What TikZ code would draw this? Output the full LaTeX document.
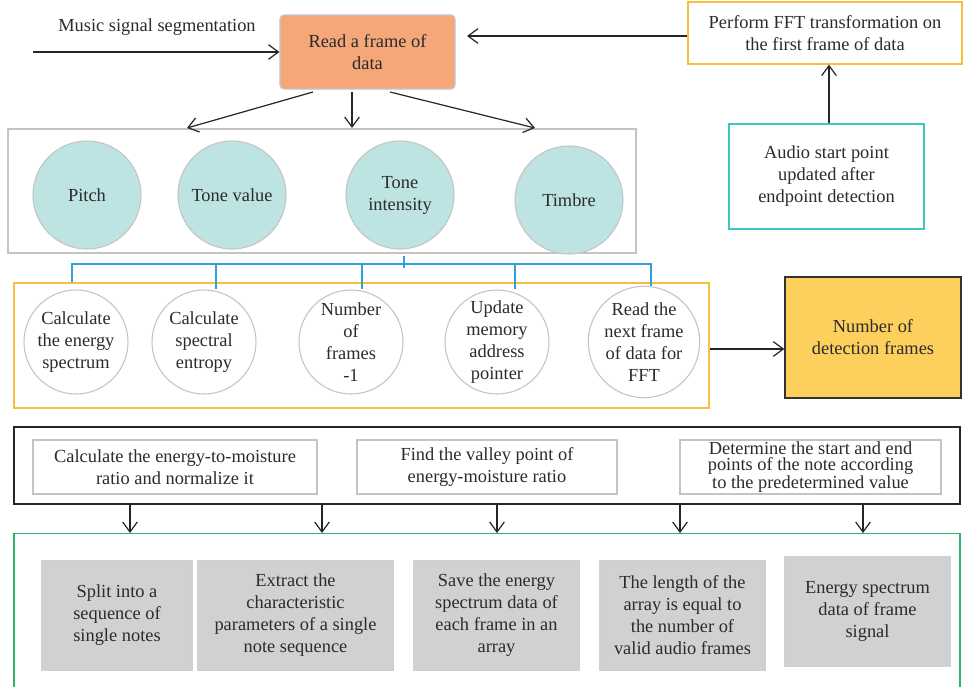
\documentclass[tikz,border=0pt]{standalone}
\usepackage{fontspec}
\setmainfont{Liberation Serif}
\usetikzlibrary{arrows.meta}
\definecolor{txt}{HTML}{2B2B2B}
\definecolor{salmon}{HTML}{F5A77A}
\definecolor{teal}{HTML}{BDE3E2}
\definecolor{orangeb}{HTML}{F9BE3A}
\definecolor{cyanb}{HTML}{3CC8C0}
\definecolor{blueln}{HTML}{2FA0DA}
\definecolor{gold}{HTML}{FDD05E}
\definecolor{greenb}{HTML}{2DB36A}
\definecolor{grayfill}{HTML}{D0D1D0}
\definecolor{lgray}{HTML}{C4C4C4}
\tikzset{
  every node/.style={text=txt, font=\fontsize{13.8}{16.5}\selectfont, align=center, inner sep=0pt},
  arr/.style={draw=black!85, line width=0.9pt, -{Straight Barb[length=7.5pt,width=11pt,line width=0.9pt]}},
  rbox/.style={draw=lgray, line width=0.8pt, rectangle},
  tcirc/.style={circle, draw=lgray, line width=0.8pt, fill=teal, minimum size=81pt},
  wcirc/.style={circle, draw=lgray, line width=0.8pt, fill=white, minimum size=78pt},
  gbox/.style={rectangle, draw=lgray!80, line width=0.8pt, fill=grayfill, minimum height=81.75pt},
  bline/.style={draw=blueln, line width=0.9pt}
}
\begin{document}
\begin{tikzpicture}[x=0.75pt,y=-0.75pt]
\clip (0,0) rectangle (963,686);
\fill[white] (0,0) rectangle (963,686);

% top row
\node (msg) at (157,27) {Music signal segmentation};
\coordinate (msgstart) at (33,52);
\node[rectangle, rounded corners=3pt, draw=lgray, line width=0.8pt, fill=salmon, minimum width=131.25pt, minimum height=55.5pt] (read) at (367.5,52) {Read a frame of\\data};
\node[rectangle, draw=orangeb, line width=0.9pt, minimum width=205.5pt, minimum height=46.5pt] (fft) at (825,33) {Perform FFT transformation on\\the first frame of data};
\node[rectangle, draw=cyanb, line width=0.9pt, minimum width=146.25pt, minimum height=78.75pt] (audio) at (826.5,176.5) {Audio start point\\updated after\\endpoint detection};
\coordinate (fftin) at (467,36);

\draw[arr] (msgstart) -- (read.west |- msgstart);
\draw[arr] (fft.west |- fftin) -- (fftin);
\draw[arr] (audio.north -| 829,0) -- (fft.south -| 829,0);

% feature box
\node[rbox, minimum width=471pt, minimum height=93pt] (feat) at (322,191) {};
\node[tcirc] (pitch) at (87,195) {Pitch};
\node[tcirc] (tonev) at (232,195) {Tone value};
\node[tcirc] (tonei) at (400,195) {Tone\\intensity};
\node[tcirc] (timbre) at (569,200) {Timbre};

\coordinate (a1s) at (313,92);
\coordinate (a1e) at (187,128);
\coordinate (a2s) at (352,92);
\coordinate (a2e) at (352,128);
\coordinate (a3s) at (390,92);
\coordinate (a3e) at (535,128);
\draw[arr] (a1s) -- (a1e);
\draw[arr] (a2s) -- (a2e);
\draw[arr] (a3s) -- (a3e);

% second row
\node[rectangle, draw=orangeb, line width=0.9pt, minimum width=521.25pt, minimum height=93.75pt] (calc) at (361.5,345.5) {};
\node[wcirc] (c1) at (76,342) {Calculate\\the energy\\spectrum};
\node[wcirc] (c2) at (204,342) {Calculate\\spectral\\entropy};
\node[wcirc] (c3) at (351,342) {Number\\of\\frames\\-1};
\node[wcirc] (c4) at (497,342) {Update\\memory\\address\\pointer};
\node[wcirc] (c5) at (644,342) {Read the\\next frame\\of data for\\FFT};

\coordinate (bl1) at (72,264);
\coordinate (bl2) at (651,264);
\draw[bline] (bl1 |- calc.north) -- (bl1) -- (bl2) -- (c5.north -| bl2);
\draw[bline] (216,264) -- (c2.north -| 216,0);
\draw[bline] (362,264) -- (c3.north -| 362,0);
\draw[bline] (515,264) -- (c4.north -| 515,0);
\draw[bline] (404,256) -- (404,268);

\node[rectangle, draw=black!80, line width=1pt, fill=gold, minimum width=132pt, minimum height=90.75pt] (det) at (873,337.5) {Number of\\detection frames};
\draw[arr] (calc.east |- 0,349) -- (det.west |- 0,349);

% third row
\node[rectangle, draw=black!85, line width=1pt, minimum width=709.5pt, minimum height=57.75pt] (ratio) at (487,465.5) {};
\node[rbox, minimum width=213pt, minimum height=40.5pt] (r1) at (175,467) {Calculate the energy-to-moisture\\ratio and normalize it};
\node[rbox, minimum width=195pt, minimum height=40.5pt] (r2) at (487,467) {Find the valley point of\\energy-moisture ratio};
\node[rbox, minimum width=195.75pt, minimum height=40.5pt, font=\fontsize{13.8}{12.4}\selectfont] (r3) at (810.5,467) {Determine the start and end\\points of the note according\\to the predetermined value};

% bottom
\node[rectangle, draw=greenb, line width=0.9pt, minimum width=709.5pt, minimum height=150pt, anchor=north] (out) at (487,533) {};
\foreach \xx in {130,322,497,680,863}{
  \draw[arr] (ratio.south -| \xx,0) -- (out.north -| \xx,0);
}
\node[gbox, minimum width=112.5pt] (g1) at (117,615.5) {Split into a\\sequence of\\single notes};
\node[gbox, minimum width=146.25pt] (g2) at (295.5,615.5) {Extract the\\characteristic\\parameters of a single\\note sequence};
\node[gbox, minimum width=123.75pt] (g3) at (496.5,615.5) {Save the energy\\spectrum data of\\each frame in an\\array};
\node[gbox, minimum width=123.75pt] (g4) at (682.5,615.5) {The length of the\\array is equal to\\the number of\\valid audio frames};
\node[gbox, minimum width=123.75pt] (g5) at (867.5,611.5) {Energy spectrum\\data of frame\\signal};
\end{tikzpicture}
\end{document}
